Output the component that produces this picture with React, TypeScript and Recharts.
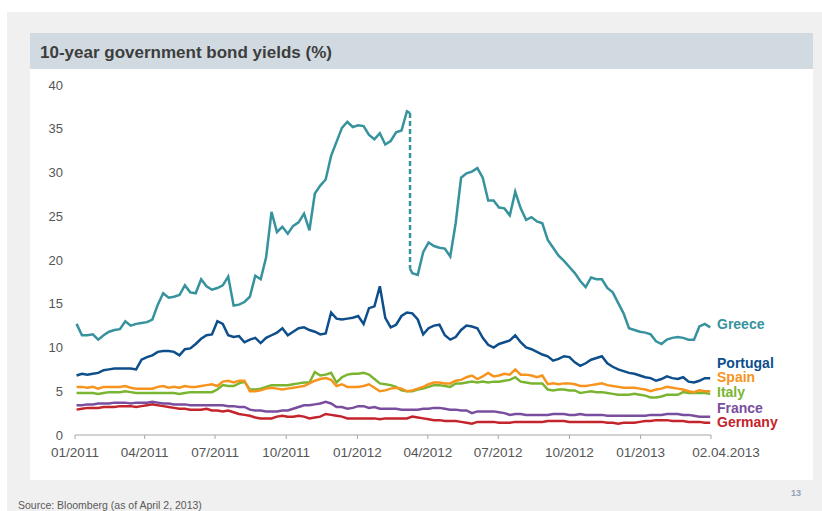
import { LineChart, Line, XAxis, YAxis } from "recharts";

// weekly samples, Mondays from 03.01.2011 to 01.04.2013
const DAY = 86400000;
const firstMonday = Date.UTC(2011, 0, 3);
const weekDates: number[] = Array.from({ length: 118 }, (_, i) => firstMonday + i * 7 * DAY);

// Greek debt swap (PSI), shown as a dashed drop
const swapDate = Date.UTC(2012, 2, 9);
const greeceBeforeSwap = 36.8;
const greeceAfterSwap = 19.0;

// weeks 0-61
const greeceBefore = [
  12.7, 11.4, 11.4, 11.5, 10.9, 11.4, 11.8, 12.0, 12.1, 13.0,
  12.5, 12.7, 12.8, 12.9, 13.2, 14.9, 16.2, 15.7, 15.8, 16.0,
  17.1, 16.3, 16.2, 17.8, 17.0, 16.6, 16.8, 17.1, 18.1, 14.8,
  14.9, 15.2, 15.8, 18.2, 17.8, 20.3, 25.5, 23.2, 23.8, 23.0,
  23.9, 24.3, 25.3, 23.4, 27.6, 28.5, 29.2, 31.9, 33.5, 35.1,
  35.8, 35.2, 35.4, 35.3, 34.3, 33.8, 34.5, 33.2, 33.6, 34.6,
  34.8, 37.0,
];

// weeks 62-117
const greeceAfter = [
  18.5, 18.3, 20.9, 22.0, 21.6, 21.4, 21.3, 20.4,
  24.2, 29.4, 29.9, 30.1, 30.5, 29.4, 26.8, 26.8, 26.0, 25.9,
  25.1, 27.8, 25.9, 24.6, 24.9, 24.4, 24.2, 22.3, 21.4, 20.5,
  19.9, 19.2, 18.5, 17.6, 16.9, 18.0, 17.8, 17.8, 16.8, 16.3,
  15.1, 13.9, 12.2, 12.0, 11.8, 11.7, 11.5, 10.7, 10.4, 10.9,
  11.1, 11.2, 11.1, 10.9, 10.9, 12.4, 12.7, 12.3,
];

const portugal = [
  6.8, 7.0, 6.9, 7.0, 7.1, 7.4, 7.5, 7.6, 7.6, 7.6,
  7.6, 7.5, 8.6, 8.9, 9.1, 9.5, 9.6, 9.6, 9.5, 9.1,
  9.8, 9.9, 10.4, 11.0, 11.4, 11.5, 13.0, 12.7, 11.4, 11.2,
  11.3, 10.6, 10.9, 11.1, 10.5, 11.1, 11.4, 11.7, 12.2, 11.4,
  11.8, 12.2, 12.3, 12.0, 11.8, 11.5, 11.6, 14.0, 13.3, 13.2,
  13.3, 13.4, 13.6, 12.7, 14.5, 14.7, 17.0, 13.4, 12.3, 12.6,
  13.6, 14.0, 13.9, 13.2, 11.5, 12.2, 12.5, 12.6, 11.4, 10.9,
  11.2, 12.0, 12.5, 12.4, 12.2, 11.1, 10.3, 10.0, 10.4, 10.6,
  10.8, 11.4, 10.6, 10.0, 9.8, 9.5, 9.2, 9.0, 8.5, 8.7,
  9.0, 8.9, 8.3, 7.9, 8.2, 8.6, 8.8, 9.0, 8.2, 7.8,
  7.5, 7.3, 7.1, 7.0, 6.8, 6.6, 6.5, 6.2, 6.4, 6.7,
  6.5, 6.4, 6.6, 6.1, 6.0, 6.2, 6.5, 6.5,
];

const spain = [
  5.5, 5.5, 5.4, 5.5, 5.3, 5.5, 5.5, 5.5, 5.5, 5.6,
  5.4, 5.3, 5.3, 5.3, 5.3, 5.5, 5.6, 5.4, 5.5, 5.4,
  5.6, 5.5, 5.5, 5.6, 5.7, 5.8, 5.6, 6.1, 6.2, 6.0,
  6.2, 6.2, 5.0, 5.0, 5.1, 5.3, 5.4, 5.3, 5.2, 5.3,
  5.4, 5.5, 5.6, 5.9, 6.2, 6.4, 6.5, 6.3, 5.6, 5.8,
  5.5, 5.5, 5.5, 5.6, 5.8, 5.4, 5.0, 5.1, 5.3, 5.4,
  5.3, 5.0, 5.1, 5.3, 5.5, 5.8, 6.0, 6.0, 5.9, 5.9,
  6.2, 6.3, 6.6, 6.8, 6.4, 6.7, 7.1, 6.7, 6.8, 7.0,
  6.9, 7.5, 6.9, 6.9, 6.8, 6.6, 6.8, 5.8, 5.9, 5.8,
  5.9, 5.9, 5.8, 5.6, 5.6, 5.7, 5.8, 5.9, 5.7, 5.6,
  5.5, 5.4, 5.4, 5.4, 5.3, 5.2, 5.0, 5.2, 5.3, 5.5,
  5.4, 5.3, 5.2, 5.0, 4.9, 5.1, 5.0, 5.0,
];

const italy = [
  4.8, 4.8, 4.8, 4.8, 4.7, 4.8, 4.9, 4.9, 4.9, 5.0,
  4.9, 4.8, 4.8, 4.8, 4.8, 4.8, 4.8, 4.8, 4.8, 4.7,
  4.8, 4.9, 4.9, 4.9, 4.9, 4.9, 5.2, 5.7, 5.6, 5.6,
  5.9, 6.1, 5.2, 5.2, 5.3, 5.5, 5.7, 5.7, 5.7, 5.7,
  5.8, 5.9, 6.0, 6.0, 7.2, 6.8, 6.9, 7.1, 6.0, 6.6,
  6.9, 7.0, 7.0, 7.1, 6.9, 6.4, 5.9, 5.8, 5.7, 5.5,
  5.1, 5.0, 5.0, 5.2, 5.3, 5.5, 5.7, 5.7, 5.6, 5.5,
  5.9, 5.9, 6.0, 6.1, 6.0, 6.1, 6.0, 6.1, 6.1, 6.2,
  6.3, 6.6, 6.1, 6.0, 5.9, 5.9, 5.9, 5.2, 5.1, 5.2,
  5.2, 5.1, 5.1, 4.8, 4.9, 5.0, 4.9, 4.9, 4.8, 4.7,
  4.6, 4.6, 4.6, 4.7, 4.6, 4.5, 4.3, 4.3, 4.4, 4.6,
  4.6, 4.6, 4.9, 4.8, 4.8, 4.8, 4.8, 4.7,
];

const france = [
  3.4, 3.4, 3.5, 3.5, 3.6, 3.6, 3.6, 3.7, 3.7, 3.7,
  3.6, 3.7, 3.7, 3.7, 3.8, 3.7, 3.6, 3.6, 3.5, 3.5,
  3.5, 3.4, 3.4, 3.4, 3.4, 3.4, 3.4, 3.4, 3.3, 3.3,
  3.2, 3.2, 2.9, 2.8, 2.8, 2.7, 2.7, 2.7, 2.8, 2.8,
  3.0, 3.2, 3.4, 3.4, 3.5, 3.6, 3.8, 3.6, 3.2, 3.2,
  3.0, 3.1, 3.3, 3.3, 3.1, 3.2, 3.0, 3.0, 3.0, 3.0,
  2.9, 2.9, 2.9, 2.9, 3.0, 3.0, 3.1, 3.1, 3.0, 2.9,
  2.9, 2.8, 2.8, 2.5, 2.7, 2.7, 2.7, 2.7, 2.6, 2.5,
  2.3, 2.4, 2.4, 2.3, 2.3, 2.3, 2.3, 2.3, 2.4, 2.4,
  2.4, 2.3, 2.3, 2.4, 2.3, 2.3, 2.3, 2.3, 2.2, 2.2,
  2.2, 2.2, 2.2, 2.2, 2.2, 2.2, 2.3, 2.3, 2.3, 2.4,
  2.4, 2.4, 2.3, 2.3, 2.2, 2.1, 2.1, 2.1,
];

const germany = [
  2.9, 3.0, 3.1, 3.1, 3.1, 3.2, 3.2, 3.2, 3.3, 3.3,
  3.3, 3.2, 3.3, 3.4, 3.5, 3.4, 3.3, 3.2, 3.1, 3.0,
  3.0, 2.9, 2.9, 2.9, 3.0, 2.8, 2.8, 2.7, 2.8, 2.6,
  2.4, 2.3, 2.2, 2.0, 1.9, 1.9, 1.9, 2.1, 2.2, 2.1,
  2.1, 2.2, 2.1, 1.9, 2.0, 2.1, 2.4, 2.3, 2.2, 2.1,
  1.9, 1.9, 1.9, 1.9, 1.9, 1.9, 1.8, 1.9, 1.9, 1.9,
  1.9, 1.9, 2.1, 2.0, 1.9, 1.8, 1.7, 1.7, 1.6, 1.6,
  1.6, 1.5, 1.4, 1.3, 1.5, 1.5, 1.5, 1.5, 1.4, 1.4,
  1.4, 1.5, 1.5, 1.5, 1.5, 1.5, 1.5, 1.6, 1.6, 1.6,
  1.6, 1.5, 1.5, 1.5, 1.5, 1.5, 1.5, 1.5, 1.4, 1.4,
  1.3, 1.4, 1.4, 1.4, 1.5, 1.6, 1.6, 1.7, 1.7, 1.7,
  1.6, 1.6, 1.6, 1.5, 1.5, 1.5, 1.4, 1.4,
];

const tickDates = [
  "2011-01-01", "2011-04-01", "2011-07-01", "2011-10-01", "2012-01-01",
  "2012-04-01", "2012-07-01", "2012-10-01", "2013-01-01", "2013-04-02",
].map((d) => Date.parse(d));
const tickLabels = [
  "01/2011", "04/2011", "07/2011", "10/2011", "01/2012",
  "04/2012", "07/2012", "10/2012", "01/2013", "02.04.2013",
];
const yTicks = [0, 5, 10, 15, 20, 25, 30, 35, 40];

const toRows = (values: number[], offset = 0) =>
  values.map((v, i) => ({ t: weekDates[i + offset], v }));

const greeceSolidA = [...toRows(greeceBefore), { t: swapDate, v: greeceBeforeSwap }];
const greeceDrop = [
  { t: swapDate, v: greeceBeforeSwap },
  { t: swapDate, v: greeceAfterSwap },
];
const greeceSolidB = [{ t: swapDate, v: greeceAfterSwap }, ...toRows(greeceAfter, greeceBefore.length)];

const series = [
  { name: "Germany", data: toRows(germany), color: "#c4242b", top: 416 },
  { name: "France", data: toRows(france), color: "#7a4e9e", top: 401.5 },
  { name: "Italy", data: toRows(italy), color: "#7ab531", top: 386 },
  { name: "Spain", data: toRows(spain), color: "#f7941e", top: 371 },
  { name: "Portugal", data: toRows(portugal), color: "#0d4e8b", top: 356.5 },
];
const greeceColor = "#36939d";

const font = '"Liberation Sans", Arial, sans-serif';

const XTick = (props: any) => {
  const { x, y, payload } = props;
  const i = tickDates.indexOf(payload.value);
  const last = i === tickDates.length - 1;
  return (
    <text x={x + (last ? 15 : 0)} y={y} dy="0.71em" textAnchor="middle" fill="#555" fontSize={13.5} fontFamily={font}>
      {tickLabels[i]}
    </text>
  );
};

export default function App() {
  return (
    <div style={{ position: "absolute", left: 0, top: 0, width: 822, height: 511, background: "#fff", overflow: "hidden", fontFamily: font }}>
      <div style={{ position: "absolute", left: 7, top: 12, right: 0, bottom: 0, background: "#f0f0f0" }} />
      <div style={{ position: "absolute", left: 30, top: 33, width: 783, height: 447, background: "#fff" }} />
      <div
        style={{
          position: "absolute", left: 30, top: 33, width: 773, height: 36, paddingLeft: 10,
          background: "#d1dae0", color: "#3d3d3d", fontSize: 17, fontWeight: "bold", lineHeight: "39px",
        }}
      >
        10-year government bond yields (%)
      </div>

      <div style={{ position: "absolute", left: 0, top: 0 }}>
        <LineChart width={822} height={511} margin={{ top: 85, right: 111, bottom: 46, left: 15 }}>
          <XAxis
            type="number"
            dataKey="t"
            domain={[tickDates[0], tickDates[tickDates.length - 1]]}
            ticks={tickDates}
            interval={0}
            allowDataOverflow
            stroke="#a6a6a6"
            tickSize={4}
            tickMargin={8}
            tick={<XTick />}
            height={30}
          />
          <YAxis
            type="number"
            domain={[0, 40]}
            ticks={yTicks}
            interval={0}
            axisLine={false}
            tickLine={false}
            tickSize={0}
            tickMargin={12}
            width={60}
            tick={{ fill: "#555", fontSize: 13, fontFamily: font }}
          />
          {series.map((s) => (
            <Line
              key={s.name}
              data={s.data}
              dataKey="v"
              type="linear"
              stroke={s.color}
              strokeWidth={2.5}
              dot={false}
              isAnimationActive={false}
            />
          ))}
          <Line data={greeceSolidA} dataKey="v" type="linear" stroke={greeceColor} strokeWidth={2.5} dot={false} isAnimationActive={false} />
          <Line data={greeceDrop} dataKey="v" type="linear" stroke={greeceColor} strokeWidth={2.5} strokeDasharray="5 3" dot={false} isAnimationActive={false} />
          <Line data={greeceSolidB} dataKey="v" type="linear" stroke={greeceColor} strokeWidth={2.5} dot={false} isAnimationActive={false} />
        </LineChart>
      </div>

      <div style={{ position: "absolute", left: 717, top: 318, color: greeceColor, fontSize: 14, fontWeight: "bold", lineHeight: "13px" }}>
        Greece
      </div>
      {series.map((s) => (
        <div
          key={s.name}
          style={{ position: "absolute", left: 717, top: s.top, color: s.color, fontSize: 14, fontWeight: "bold", lineHeight: "13px" }}
        >
          {s.name}
        </div>
      ))}

      <div style={{ position: "absolute", left: 791, top: 488, color: "#8ea3b5", fontSize: 9, fontWeight: "bold" }}>13</div>
      <div
        style={{
          position: "absolute", left: 18, top: 499, color: "#595959", fontSize: 10.5,
          fontFamily: '"Liberation Sans Narrow", "Liberation Sans", Arial, sans-serif',
        }}
      >
        Source: Bloomberg (as of April 2, 2013)
      </div>
    </div>
  );
}
